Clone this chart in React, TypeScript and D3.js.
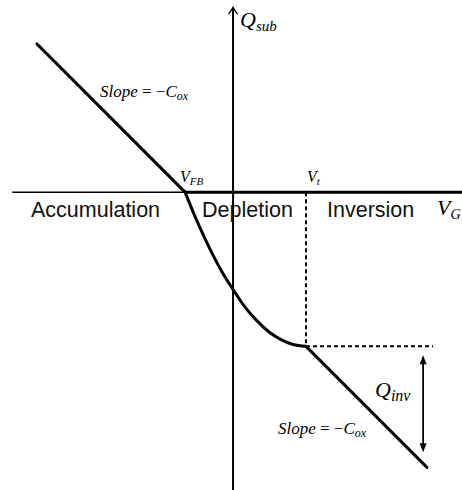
import React from "react";
import * as d3 from "d3";

// Gate voltage / substrate charge, in plot units
const V_FB = -2;
const V_T = 3.04;

const accumulationV = [-8.17, -2];
const accumulationQ = [6.17, 0];

const depletionV = [-2, -1.5, -1, -0.5, 0, 0.5, 1, 1.5, 2, 2.5, 3.04];
const depletionQ = [0, -1.21, -2.29, -3.25, -4.05, -4.79, -5.36, -5.82, -6.14, -6.34, -6.42];

const inversionV = [3.04, 8.08];
const inversionQ = [-6.42, -11.46];

const Q_T = -6.42; // charge at threshold
const dashEndV = 8.33;
const qinvArrowV = 7.92;
const qinvArrowQ = [-6.79, -10.83];

const axisStartV = -9.2;
const axisEndV = 9.54;
const vAxisTopQ = 7.7;
const vAxisBottomQ = -12.4;

const W = 462;
const H = 490;

const x = d3.scaleLinear().domain([-9.71, 9.54]).range([0, W]);
const y = d3.scaleLinear().domain([8, -12.4]).range([0, H]);

const toPts = (vs: number[], qs: number[]) => vs.map((v, i) => [v, qs[i]] as [number, number]);

const straight = d3
  .line<[number, number]>()
  .x((d) => x(d[0]))
  .y((d) => y(d[1]));

const smooth = d3
  .line<[number, number]>()
  .x((d) => x(d[0]))
  .y((d) => y(d[1]))
  .curve(d3.curveMonotoneX);

const mathFont = "'Liberation Serif', 'DejaVu Serif', serif";
const textFont = "'Liberation Sans', Arial, sans-serif";

function SlopeLabel({ px, py }: { px: number; py: number }) {
  return (
    <text x={px} y={py} fontFamily={mathFont} fontSize={17} fill="#000">
      <tspan fontStyle="italic">Slope</tspan>
      <tspan> = −</tspan>
      <tspan fontStyle="italic">C</tspan>
      <tspan fontStyle="italic" fontSize={12} dy={3}>
        ox
      </tspan>
    </text>
  );
}

export default function App() {
  const ax0 = x(0);
  const ay0 = y(0);
  const arrowX = x(qinvArrowV);
  const aTop = y(qinvArrowQ[0]);
  const aBot = y(qinvArrowQ[1]);
  const vTop = y(vAxisTopQ);

  return (
    <svg
      width={W}
      height={H}
      viewBox={`0 0 ${W} ${H}`}
      style={{ position: "absolute", left: 0, top: 0, background: "#fff" }}
    >
      {/* horizontal axis: thin below flat-band, heavy beyond */}
      <line x1={x(axisStartV)} x2={x(V_FB)} y1={ay0} y2={ay0} stroke="#000" strokeWidth={1.5} />
      <line x1={x(V_FB)} x2={x(axisEndV)} y1={ay0} y2={ay0} stroke="#000" strokeWidth={3} />

      {/* vertical axis with arrow */}
      <line x1={ax0} x2={ax0} y1={vTop + 1} y2={y(vAxisBottomQ)} stroke="#000" strokeWidth={2} />
      <path
        d={`M${ax0 - 4.5},${vTop + 7} Q${ax0 - 1.5},${vTop + 3} ${ax0},${vTop} Q${ax0 + 1.5},${vTop + 3} ${ax0 + 4.5},${vTop + 7}`}
        fill="none"
        stroke="#000"
        strokeWidth={1.3}
      />

      {/* threshold guides */}
      <line
        x1={x(V_T)}
        x2={x(V_T)}
        y1={ay0}
        y2={y(Q_T)}
        stroke="#000"
        strokeWidth={2}
        strokeDasharray="4 3"
      />
      <line
        x1={x(V_T)}
        x2={x(dashEndV)}
        y1={y(Q_T)}
        y2={y(Q_T)}
        stroke="#000"
        strokeWidth={2}
        strokeDasharray="4 3"
      />

      {/* charge curve */}
      <g fill="none" stroke="#000" strokeWidth={3} strokeLinecap="round" strokeLinejoin="round">
        <path d={straight(toPts(accumulationV, accumulationQ)) ?? ""} />
        <path d={smooth(toPts(depletionV, depletionQ)) ?? ""} />
        <path d={straight(toPts(inversionV, inversionQ)) ?? ""} />
      </g>

      {/* inversion charge double arrow */}
      <line x1={arrowX} x2={arrowX} y1={aTop + 6} y2={aBot - 6} stroke="#000" strokeWidth={1.8} />
      <path d={`M${arrowX},${aTop} L${arrowX - 3.5},${aTop + 9} L${arrowX + 3.5},${aTop + 9} Z`} fill="#000" />
      <path d={`M${arrowX},${aBot} L${arrowX - 3.5},${aBot - 9} L${arrowX + 3.5},${aBot - 9} Z`} fill="#000" />

      {/* region names */}
      <g fontFamily={textFont} fontSize={21.5} fill="#111">
        <text x={31} y={217}>Accumulation</text>
        <text x={202} y={217}>Depletion</text>
        <text x={327} y={217}>Inversion</text>
      </g>

      {/* math labels */}
      <text x={240} y={27} fontFamily={mathFont} fontSize={22} fontStyle="italic">
        Q
        <tspan fontSize={15} dy={4}>
          sub
        </tspan>
      </text>
      <text x={437} y={215} fontFamily={mathFont} fontSize={22} fontStyle="italic">
        V
        <tspan fontSize={14} dy={4}>
          G
        </tspan>
      </text>
      <text x={180} y={182} fontFamily={mathFont} fontSize={16} fontStyle="italic">
        V
        <tspan fontSize={11} dy={3}>
          FB
        </tspan>
      </text>
      <text x={307} y={182} fontFamily={mathFont} fontSize={16} fontStyle="italic">
        V
        <tspan fontSize={11} dy={3}>
          t
        </tspan>
      </text>
      <text x={375} y={397} fontFamily={mathFont} fontSize={22} fontStyle="italic">
        Q
        <tspan fontSize={16} dy={4}>
          inv
        </tspan>
      </text>

      <SlopeLabel px={100} py={97} />
      <SlopeLabel px={278} py={434} />
    </svg>
  );
}
